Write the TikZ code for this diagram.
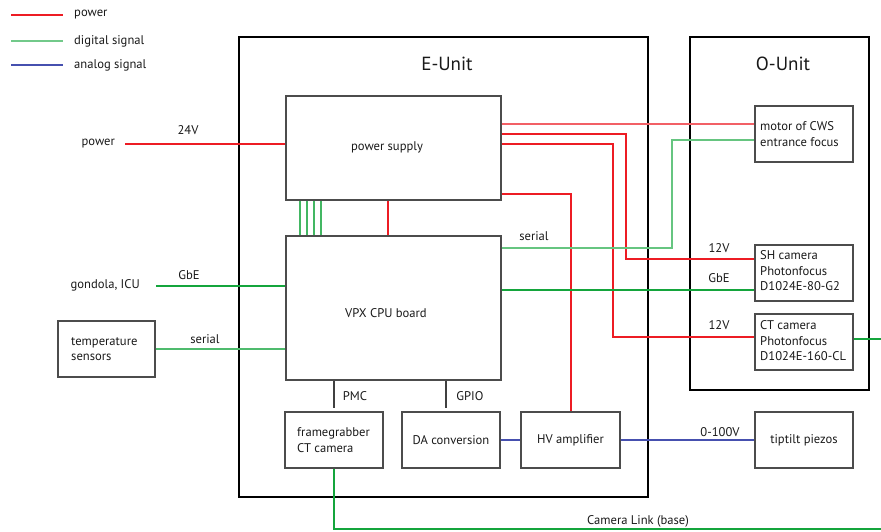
\documentclass[tikz,border=0pt]{standalone}
\usepackage{fontspec}
\setmainfont{PT Sans}
\definecolor{cred}{RGB}{237,28,36}
\definecolor{cgreen}{RGB}{20,165,60}
\definecolor{cblue}{RGB}{70,80,175}
\begin{document}
\begin{tikzpicture}[x=1pt,y=-1pt,
  every node/.style={font=\fontsize{12.6}{15.5}\selectfont, inner sep=0pt, text=black!90},
  blk/.style={draw=black!70, line width=1.1pt, fill=none},
  unit/.style={draw=black, line width=2pt},
  pw/.style={color=cred, line width=1.2pt},
  dg/.style={color=cgreen, line width=1.2pt},
  an/.style={color=cblue, line width=1.2pt},
  bk/.style={color=black!75, line width=1.2pt}]
\useasboundingbox (0,0) rectangle (881,531);
% legend
\coordinate (l1a) at (11,15); \coordinate (l1b) at (63,15);
\coordinate (l2a) at (11,41); \coordinate (l2b) at (63,41);
\coordinate (l3a) at (11,65); \coordinate (l3b) at (63,65);
\draw[pw] (l1a) -- (l1b);
\draw[dg, color=cgreen!60] (l2a) -- (l2b);
\draw[an] (l3a) -- (l3b);
\node[anchor=west] (tl1) at (74,15) {power};
\node[anchor=west] (tl2) at (74,41) {digital signal};
\node[anchor=west] (tl3) at (74,65) {analog signal};
% units
\draw[unit] (239,37) rectangle (648,497);
\draw[unit] (690,37) rectangle (869,390);
\node (eunit) at (447,64) {\fontsize{19}{21}\selectfont E-Unit};
\node (ounit) at (783,64) {\fontsize{19}{21}\selectfont O-Unit};
% blocks
\node[blk, minimum width=215, minimum height=104] (ps) at (393.5,148) {};
\node (pst) at (387,147) {power supply};
\node[blk, minimum width=215, minimum height=144] (cpu) at (393.5,308) {};
\node (cput) at (386,313) {VPX CPU board};
\node[blk, minimum width=98, minimum height=56] (fg) at (334,440) {};
\node[align=left, anchor=west] (fgt) at (297,440) {framegrabber\\CT camera};
\node[blk, minimum width=98, minimum height=56] (da) at (451,440) {DA conversion};
\node[blk, minimum width=99, minimum height=56] (hv) at (570.5,440) {HV amplifier};
\node[blk, minimum width=98, minimum height=56] (tt) at (804,440) {tiptilt piezos};
\node[blk, minimum width=97, minimum height=56] (ts) at (106.5,349) {};
\node[align=left, anchor=west] (tst) at (71,349) {temperature\\sensors};
\node[blk, minimum width=98, minimum height=56] (mot) at (804,134) {};
\node[align=left, anchor=west] (mott) at (760,134) {motor of CWS\\entrance focus};
\node[blk, minimum width=98, minimum height=56] (sh) at (804,273) {};
\node[align=left, anchor=west] (sht) at (760,271) {SH camera\\Photonfocus\\D1024E-80-G2};
\node[blk, minimum width=98, minimum height=56] (ct) at (804,342) {};
\node[align=left, anchor=west] (ctt) at (760,341) {CT camera\\Photonfocus\\D1024E-160-CL};
% external inputs
\node[anchor=east] (pwin) at (115,144) {power};
\node[anchor=east] (gond) at (140,285) {gondola, ICU};
\draw[pw] (pwin.east) ++(10,0) -- (ps.west |- 0,144);
\node (v24) at (188,130) {24V};
\draw[dg] (gond.east) ++(16,1) -- (cpu.west |- 0,286);
\node (gbe1) at (189,275) {GbE};
\draw[dg, color=cgreen!75] (ts.east |- 0,349) -- (cpu.west |- 0,349);
\node (ser1) at (205,339) {serial};
% ps to cpu
\foreach \xx in {300,307,314,321} {\draw[dg, color=cgreen!80] (ps.south -| \xx,0) -- (cpu.north -| \xx,0);}
\draw[pw] (ps.south -| 388,0) -- (cpu.north -| 388,0);
% power lines to O-Unit
\draw[pw, color=cred!70] (ps.east |- 0,124) -- (mot.west |- 0,124);
\draw[pw] (ps.east |- 0,134) -- (626,134) -- (626,259) -- (sh.west |- 0,259);
\draw[pw] (ps.east |- 0,144) -- (613,144) -- (613,337) -- (ct.west |- 0,337);
\draw[pw] (ps.east |- 0,194) -- (571,194) -- (hv.north -| 571,0);
\node (v12a) at (719,248) {12V};
\node (v12b) at (719,325) {12V};
% digital to O-Unit
\draw[dg, color=cgreen!65] (cpu.east |- 0,248) -- (672,248) -- (672,140) -- (mot.west |- 0,140);
\node (ser2) at (534,236) {serial};
\draw[dg] (cpu.east |- 0,290) -- (sh.west |- 0,290);
\node (gbe2) at (719,278) {GbE};
\coordinate (ctout) at (881,339);
\draw[dg] (ct.east |- ctout) -- (ctout);
% cpu to lower blocks
\draw[bk] (cpu.south -| 334,0) -- (334,408);
\node (pmc) at (355,396) {PMC};
\draw[bk] (cpu.south -| 446,0) -- (446,408);
\node (gpio) at (470,396) {GPIO};
\draw[an] (da.east) -- (hv.west);
\draw[an] (hv.east) -- (tt.west);
\node (v100) at (720,432) {0-100V};
\coordinate (clend) at (881,529);
\draw[dg] (fg.south) -- (334,529) -- (clend);
\node (cl) at (638,521) {Camera Link (base)};
\end{tikzpicture}
\end{document}
